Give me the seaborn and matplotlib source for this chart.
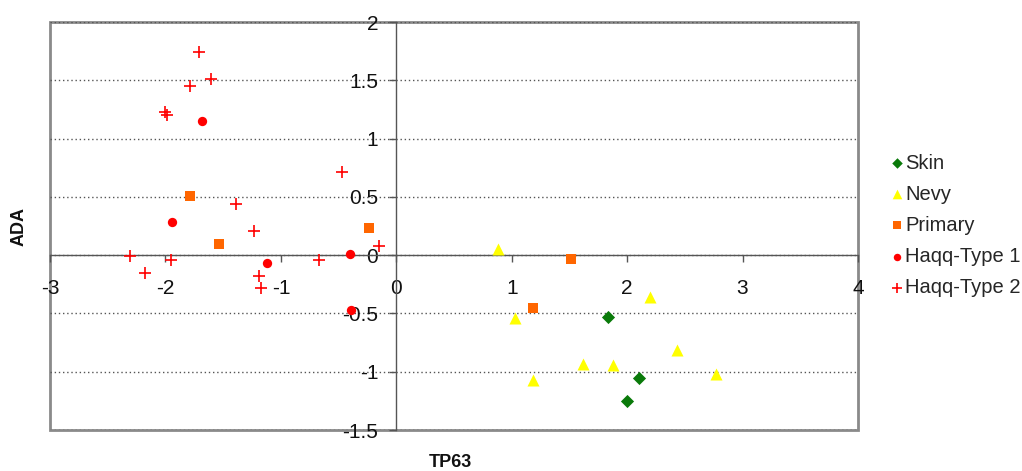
import matplotlib
matplotlib.use("Agg")
import matplotlib.pyplot as plt
import seaborn as sns
import pandas as pd

# Data
skin_x = [1.83, 2.10, 2.00]
skin_y = [-0.53, -1.05, -1.25]

nevy_x = [0.88, 1.03, 1.18, 1.62, 1.88, 2.20, 2.43, 2.77]
nevy_y = [0.05, -0.54, -1.07, -0.93, -0.94, -0.36, -0.81, -1.02]

primary_x = [-1.79, -1.54, -0.24, 1.51, 1.18]
primary_y = [0.51, 0.10, 0.235, -0.03, -0.45]

haqq1_x = [-1.68, -1.945, -1.12, -0.40, -0.39]
haqq1_y = [1.15, 0.285, -0.07, 0.01, -0.47]

haqq2_x = [-1.706, -1.79, -1.61, -2.00, -1.99, -0.47, -1.385, -1.23,
           -2.31, -2.18, -1.95, -1.19, -1.175, -0.67, -0.15]
haqq2_y = [1.74, 1.45, 1.51, 1.23, 1.20, 0.71, 0.44, 0.21,
           -0.01, -0.15, -0.04, -0.175, -0.28, -0.04, 0.075]

x_ticks = [-3, -2, -1, 0, 1, 2, 3, 4]
y_ticks = [-1.5, -1, -0.5, 0, 0.5, 1, 1.5, 2]

groups = [
    ("Skin", skin_x, skin_y, "D", "#0a7a0a", 45),
    ("Nevy", nevy_x, nevy_y, "^", "#ffff00", 75),
    ("Primary", primary_x, primary_y, "s", "#ff6600", 55),
    ("Haqq-Type 1", haqq1_x, haqq1_y, "o", "#ff0000", 45),
    ("Haqq-Type 2", haqq2_x, haqq2_y, "+", "#ff0000", 70),
]

sns.set_style("white")
plt.rcParams["font.family"] = ["Liberation Sans", "DejaVu Sans"]

fig = plt.figure(figsize=(10.22, 4.71), dpi=100)
ax = fig.add_axes([0.049, 0.087, 0.7905, 0.866])

for name, xs, ys, marker, color, size in groups:
    df = pd.DataFrame({"TP63": xs, "ADA": ys})
    if marker == "+":
        sns.scatterplot(data=df, x="TP63", y="ADA", marker=marker, color=color,
                        s=size, linewidth=1.2, label=name, ax=ax, zorder=3)
    else:
        sns.scatterplot(data=df, x="TP63", y="ADA", marker=marker, color=color,
                        s=size, linewidth=0, label=name, ax=ax, zorder=3)

ax.set_xlim(-3, 4)
ax.set_ylim(-1.5, 2)
ax.set_xticks(x_ticks)
ax.set_yticks(y_ticks)
ax.set_xticklabels([f"{t:g}" for t in x_ticks])
ax.set_yticklabels([f"{t:g}" for t in y_ticks])

# axis lines through the origin, frame drawn by the axes patch
ax.spines["left"].set_position(("data", 0))
ax.spines["bottom"].set_position(("data", 0))
ax.spines["top"].set_visible(False)
ax.spines["right"].set_visible(False)
for s in ("left", "bottom"):
    ax.spines[s].set_color("#555555")
    ax.spines[s].set_linewidth(1.0)
ax.patch.set_edgecolor("#8a8a8a")
ax.patch.set_linewidth(2.0)

ax.tick_params(axis="x", direction="out", length=5, width=1, color="#555555",
               pad=12, labelsize=15, labelcolor="#111111", bottom=True)
ax.tick_params(axis="y", direction="out", length=5, width=1, color="#555555",
               pad=8, labelsize=15, labelcolor="#111111", left=True)

ax.yaxis.grid(True, linestyle=(0, (1, 2)), color="#555555", linewidth=1.0)
ax.xaxis.grid(False)
ax.set_axisbelow(True)

ax.set_xlabel("TP63", fontsize=13, fontweight="bold", color="#111111")
ax.set_ylabel("ADA", fontsize=13, fontweight="bold", color="#111111")
ax.xaxis.set_label_coords(0.495, -0.058)
ax.yaxis.set_label_coords(-0.0285, 0.5)

ax.legend(loc="center left", bbox_to_anchor=(1.041, 0.502), frameon=False,
          fontsize=14.5, handletextpad=0.1, handlelength=0.6, labelspacing=0.6,
          markerscale=0.8, borderaxespad=0, borderpad=0)

fig.savefig("out.png", dpi=100)
